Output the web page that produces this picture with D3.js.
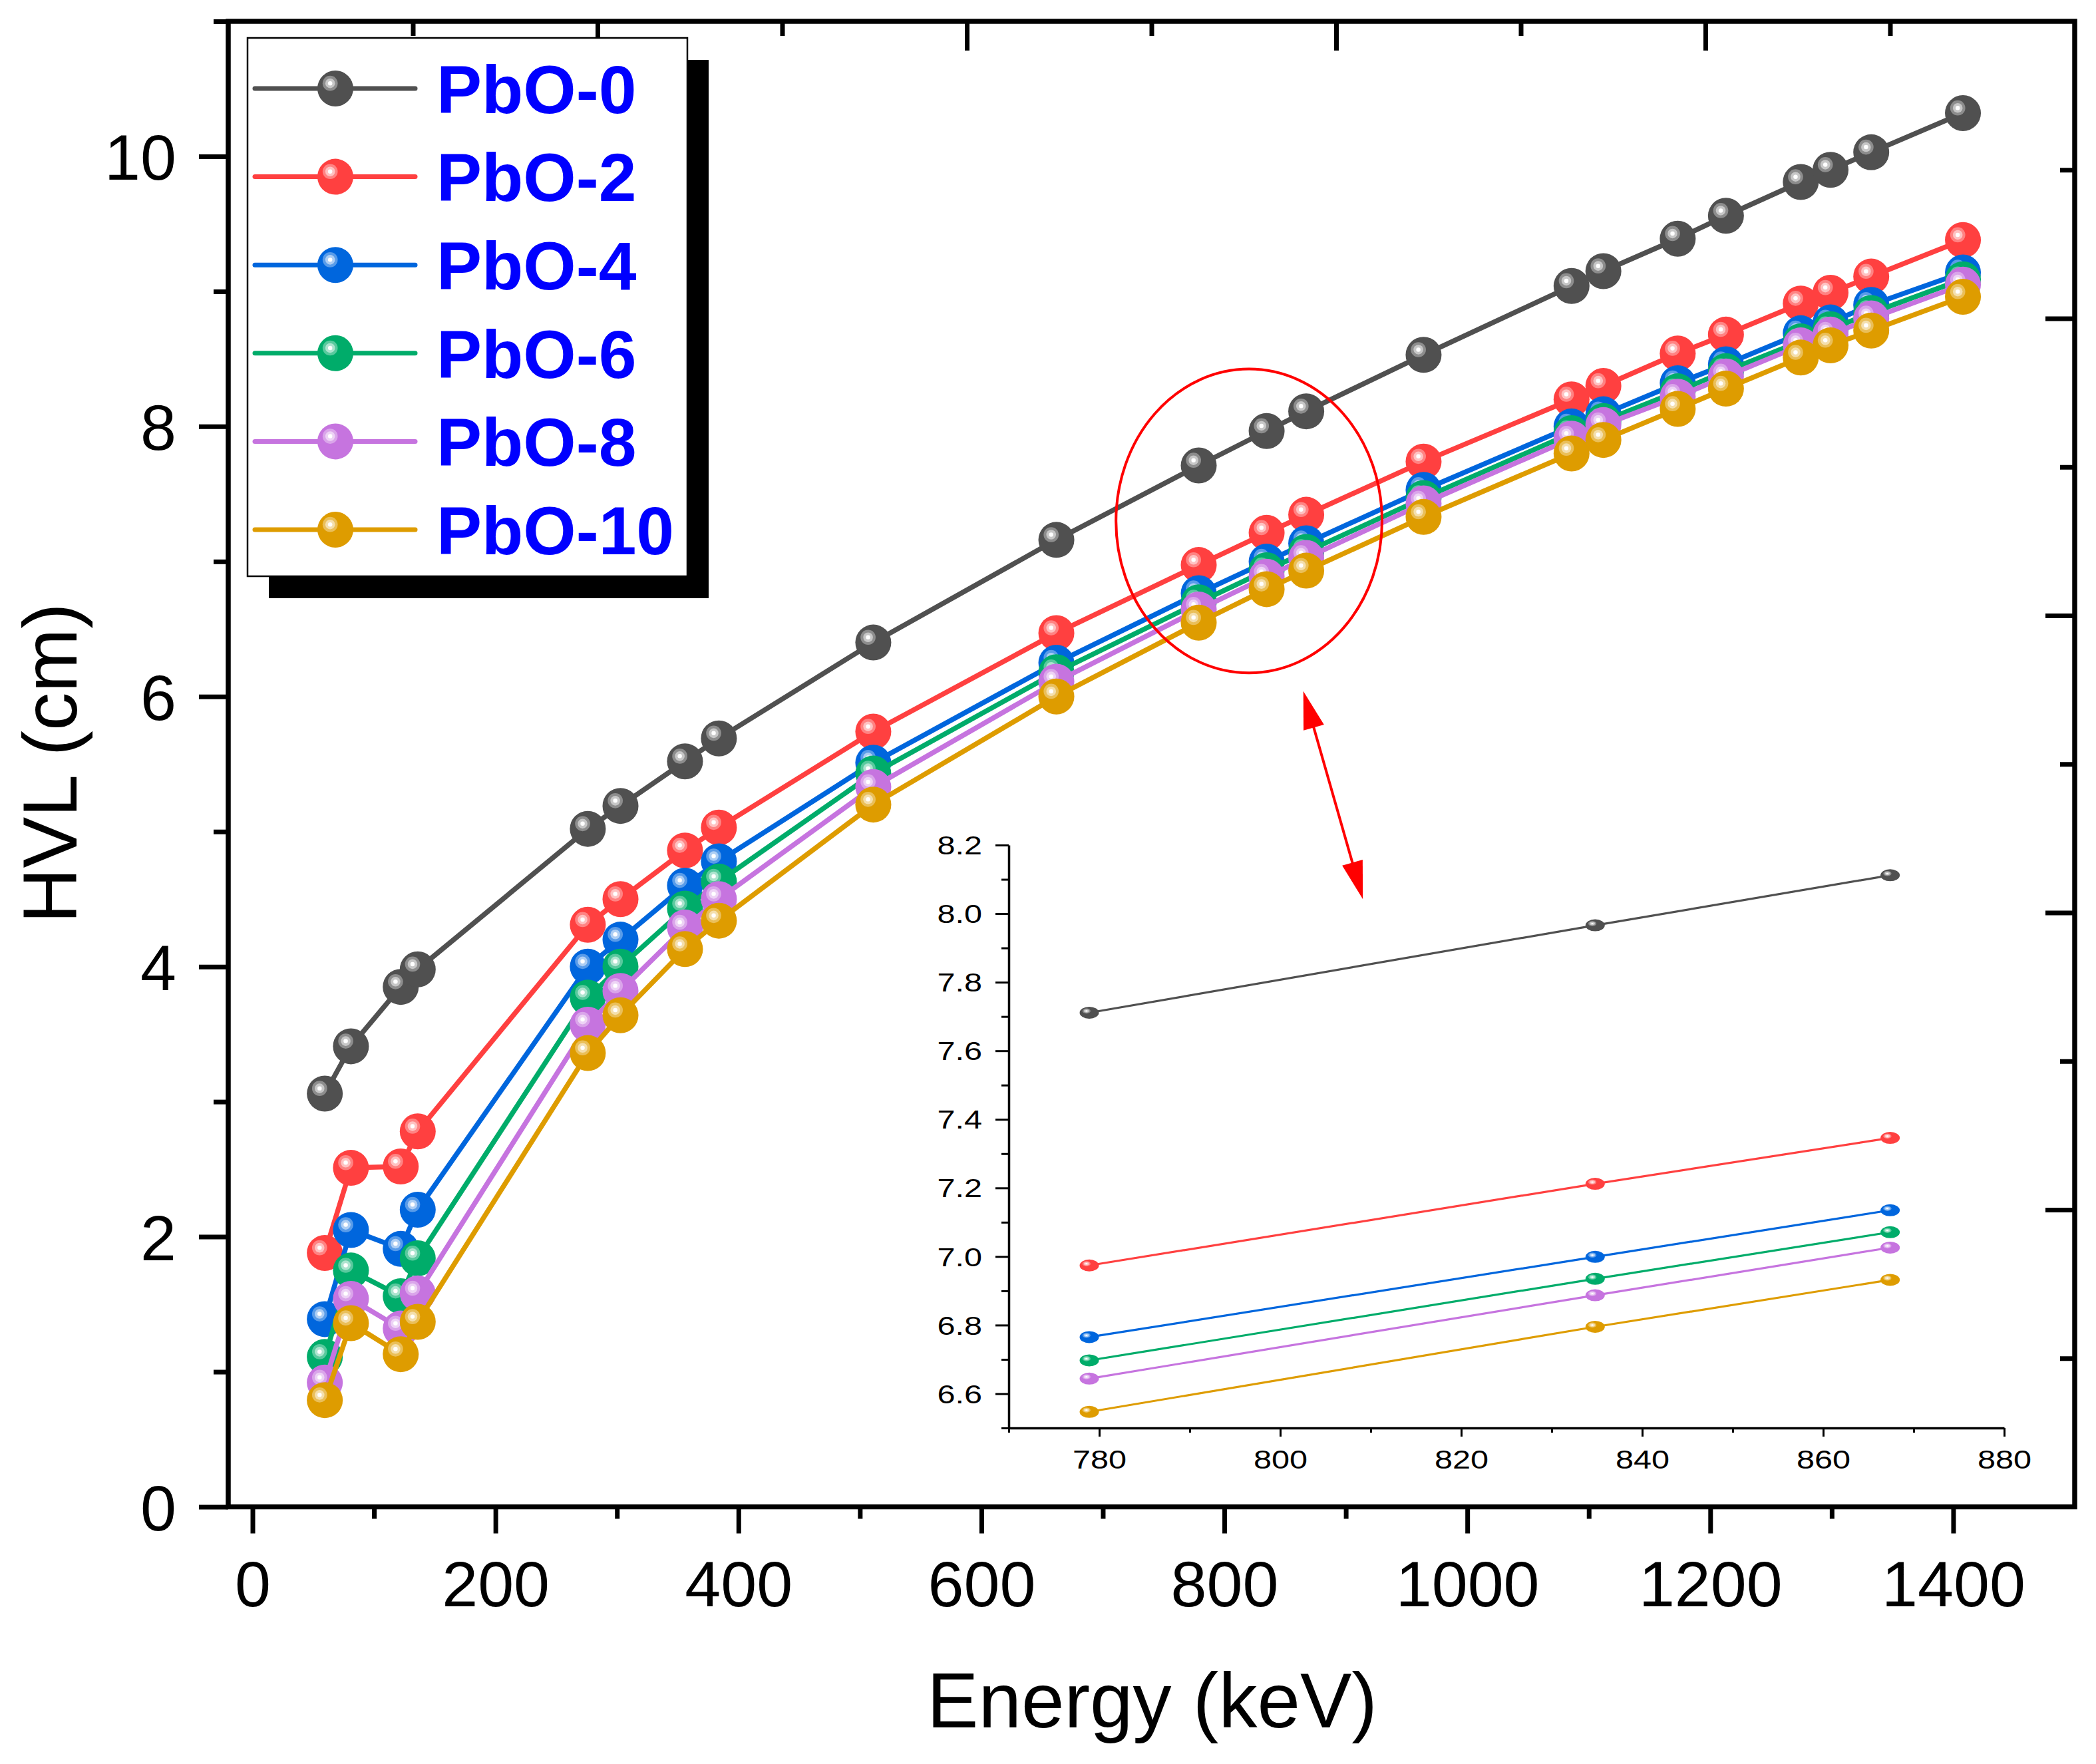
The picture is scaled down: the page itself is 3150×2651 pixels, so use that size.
<!DOCTYPE html>
<html>
<head>
<meta charset="utf-8">
<script src="https://cdn.jsdelivr.net/npm/d3@7"></script>
<style>
  body { margin: 0; background: #fff; }
  text { font-family: Arial, "Liberation Sans", sans-serif; }
</style>
</head>
<body>
<svg id="chart" width="3150" height="2651"></svg>
<script>
// data
const energy = [59.5, 81, 122, 136, 276, 302.9, 356, 383.9, 511, 661.7, 778.9, 834.8, 867.4, 964, 1085.8, 1112, 1173.2, 1212.9, 1274.5, 1299, 1332.5, 1408];

const hvlPbO0  = [3.06, 3.41, 3.85, 3.98, 5.02, 5.19, 5.52, 5.69, 6.40, 7.16, 7.711, 7.966, 8.112, 8.53, 9.04, 9.15, 9.39, 9.56, 9.81, 9.90, 10.03, 10.32];
const hvlPbO2  = [1.88, 2.51, 2.52, 2.78, 4.31, 4.50, 4.86, 5.03, 5.74, 6.47, 6.974, 7.212, 7.346, 7.74, 8.20, 8.30, 8.54, 8.68, 8.91, 8.99, 9.11, 9.38];
const hvlPbO4  = [1.39, 2.05, 1.91, 2.20, 4.00, 4.20, 4.60, 4.78, 5.51, 6.25, 6.765, 6.999, 7.135, 7.53, 8.00, 8.09, 8.32, 8.46, 8.69, 8.77, 8.90, 9.14];
const hvlPbO6  = [1.11, 1.75, 1.56, 1.84, 3.77, 4.00, 4.43, 4.63, 5.43, 6.18, 6.697, 6.935, 7.071, 7.47, 7.95, 8.04, 8.26, 8.41, 8.63, 8.72, 8.84, 9.09];
const hvlPbO8  = [0.92, 1.54, 1.32, 1.58, 3.57, 3.82, 4.29, 4.50, 5.33, 6.11, 6.644, 6.887, 7.026, 7.43, 7.91, 8.01, 8.22, 8.37, 8.60, 8.68, 8.80, 9.05];
const hvlPbO10 = [0.79, 1.36, 1.13, 1.37, 3.36, 3.64, 4.13, 4.34, 5.20, 6.00, 6.547, 6.795, 6.932, 7.33, 7.80, 7.90, 8.13, 8.28, 8.51, 8.60, 8.71, 8.96];

const seriesNames  = ['PbO-0', 'PbO-2', 'PbO-4', 'PbO-6', 'PbO-8', 'PbO-10'];
const seriesValues = [hvlPbO0, hvlPbO2, hvlPbO4, hvlPbO6, hvlPbO8, hvlPbO10];
const seriesColors = ['#505050', '#FF4040', '#0066DD', '#00AC6A', '#C674DF', '#DE9C00'];

const xTicks = [0, 200, 400, 600, 800, 1000, 1200, 1400];
const yTicks = [0, 2, 4, 6, 8, 10];
const insetXTicks = [780, 800, 820, 840, 860, 880];
const insetYTicks = [6.6, 6.8, 7.0, 7.2, 7.4, 7.6, 7.8, 8.0, 8.2];

// zoom marks (data units): ellipse centre / radii, double arrow ends
const zoomEllipse = {cx: 820.3, cy: 7.30, rx: 109.5, ry: 1.125};
const arrowEnds = [[865, 6.04], [914, 4.50]];

const svg = d3.select('#chart');
svg.append('rect').attr('width', 3150).attr('height', 2651).attr('fill', '#fff');

const L = 343, R = 3118, T = 32, B = 2264.5;
const x = d3.scaleLinear().domain([-20, 1500]).range([L, R]);
const y = d3.scaleLinear().domain([0, 11]).range([B, T]);

function cleanAxis(g, w) {
    g.select('.domain').remove();
    g.selectAll('.tick line').attr('stroke', '#000').attr('stroke-width', w);
}

// bottom axis
svg.append('g').attr('transform', `translate(0,${B})`)
    .call(d3.axisBottom(x).tickValues(d3.range(100, 1400, 200)).tickSize(18).tickFormat(''))
    .call(g => cleanAxis(g, 7));
svg.append('g').attr('transform', `translate(0,${B})`)
    .call(d3.axisBottom(x).tickValues(xTicks).tickSize(40).tickFormat(d3.format('d')))
    .call(g => cleanAxis(g, 7))
    .call(g => g.selectAll('.tick text').attr('y', 149).attr('dy', null)
        .attr('font-size', 97).attr('fill', '#000'));

// left axis
svg.append('g').attr('transform', `translate(${L},0)`)
    .call(d3.axisLeft(y).tickValues(d3.range(1, 12, 2)).tickSize(22).tickFormat(''))
    .call(g => cleanAxis(g, 7));
svg.append('g').attr('transform', `translate(${L},0)`)
    .call(d3.axisLeft(y).tickValues(yTicks).tickSize(44).tickFormat(d3.format('d')))
    .call(g => cleanAxis(g, 7))
    .call(g => g.selectAll('.tick text').attr('x', -78).attr('dy', '0.36em')
        .attr('font-size', 97).attr('fill', '#000'));

// top and right axes (unlabelled, own divisions)
const xTop = d3.scaleLinear().domain([0, 5]).range([L, R]);
const yRight = d3.scaleLinear().domain([0, 5]).range([B, T]);
svg.append('g').attr('transform', `translate(0,${T})`)
    .call(d3.axisTop(xTop).tickValues([1, 2, 3, 4]).tickSize(-44).tickFormat(''))
    .call(g => cleanAxis(g, 7));
svg.append('g').attr('transform', `translate(0,${T})`)
    .call(d3.axisTop(xTop).tickValues([0.5, 1.5, 2.5, 3.5, 4.5]).tickSize(-22).tickFormat(''))
    .call(g => cleanAxis(g, 7));
svg.append('g').attr('transform', `translate(${R},0)`)
    .call(d3.axisRight(yRight).tickValues([1, 2, 3, 4]).tickSize(-44).tickFormat(''))
    .call(g => cleanAxis(g, 7));
svg.append('g').attr('transform', `translate(${R},0)`)
    .call(d3.axisRight(yRight).tickValues([0.5, 1.5, 2.5, 3.5, 4.5]).tickSize(-22).tickFormat(''))
    .call(g => cleanAxis(g, 7));

svg.append('rect')
    .attr('x', L).attr('y', T).attr('width', R - L).attr('height', B - T)
    .attr('fill', 'none').attr('stroke', '#000').attr('stroke-width', 7.5);

// axis titles
svg.append('text').attr('x', (L + R) / 2 + 1).attr('y', 2596)
    .attr('text-anchor', 'middle').attr('font-size', 116).text('Energy (keV)');
svg.append('text').attr('transform', 'translate(115,1147) rotate(-90)')
    .attr('text-anchor', 'middle').attr('font-size', 115).text('HVL (cm)');

// shiny ball marker
function ball(g, cx, cy, rx, ry, color) {
    const lighter = d3.interpolateRgb(color, '#fff');
    g.append('ellipse').attr('cx', cx).attr('cy', cy).attr('rx', rx).attr('ry', ry).attr('fill', color);
    const hx = cx - rx * 0.29, hy = cy - ry * 0.29;
    g.append('ellipse').attr('cx', hx).attr('cy', hy).attr('rx', rx * 0.42).attr('ry', ry * 0.42).attr('fill', lighter(0.35));
    g.append('ellipse').attr('cx', hx).attr('cy', hy).attr('rx', rx * 0.27).attr('ry', ry * 0.27).attr('fill', lighter(0.68));
    g.append('ellipse').attr('cx', hx).attr('cy', hy).attr('rx', rx * 0.12).attr('ry', ry * 0.12).attr('fill', '#fff');
}

// main series
const line = d3.line().x(d => x(d.e)).y(d => y(d.v));
seriesValues.forEach((vals, s) => {
    const pts = energy.map((e, i) => ({e: e, v: vals[i]}));
    const g = svg.append('g');
    g.append('path').attr('d', line(pts)).attr('fill', 'none')
        .attr('stroke', seriesColors[s]).attr('stroke-width', 7.5).attr('stroke-linejoin', 'round');
    pts.forEach(p => ball(g, x(p.e), y(p.v), 27, 27, seriesColors[s]));
});

// legend
const lg = svg.append('g');
lg.append('rect').attr('x', 404).attr('y', 90).attr('width', 661).attr('height', 809).attr('fill', '#000');
lg.append('rect').attr('x', 372).attr('y', 57).attr('width', 661).attr('height', 809)
    .attr('fill', '#fff').attr('stroke', '#000').attr('stroke-width', 2.5);
seriesNames.forEach((name, s) => {
    const ly = 133 + s * 132.6;
    lg.append('line').attr('x1', 383).attr('x2', 624).attr('y1', ly).attr('y2', ly)
        .attr('stroke', seriesColors[s]).attr('stroke-width', 7).attr('stroke-linecap', 'round');
    ball(lg, 504, ly, 27, 27, seriesColors[s]);
    lg.append('text').attr('x', 656).attr('y', ly).attr('dy', '0.36em')
        .attr('font-size', 102).attr('font-weight', 'bold').attr('fill', '#0000FF').text(name);
});

// zoom ellipse + double arrow
svg.append('ellipse')
    .attr('cx', x(zoomEllipse.cx)).attr('cy', y(zoomEllipse.cy))
    .attr('rx', x(zoomEllipse.cx + zoomEllipse.rx) - x(zoomEllipse.cx))
    .attr('ry', y(zoomEllipse.cy) - y(zoomEllipse.cy + zoomEllipse.ry))
    .attr('fill', 'none').attr('stroke', '#FF0000').attr('stroke-width', 4);

const a0 = [x(arrowEnds[0][0]), y(arrowEnds[0][1])];
const a1 = [x(arrowEnds[1][0]), y(arrowEnds[1][1])];
const adx = a1[0] - a0[0], ady = a1[1] - a0[1], alen = Math.hypot(adx, ady);
const ux = adx / alen, uy = ady / alen;
const headL = 57, headW = 16;
svg.append('line')
    .attr('x1', a0[0] + ux * 30).attr('y1', a0[1] + uy * 30)
    .attr('x2', a1[0] - ux * 30).attr('y2', a1[1] - uy * 30)
    .attr('stroke', '#FF0000').attr('stroke-width', 4);
[[a0, 1], [a1, -1]].forEach(([tip, dir]) => {
    const bx = tip[0] + dir * ux * headL, by = tip[1] + dir * uy * headL;
    const pts = [tip, [bx - uy * headW, by + ux * headW], [bx + uy * headW, by - ux * headW]];
    svg.append('polygon').attr('points', pts.map(p => p.join(',')).join(' ')).attr('fill', '#FF0000');
});

// inset
const ix = d3.scaleLinear().domain([770, 880]).range([1516, 3012]);
const iy = d3.scaleLinear().domain([6.5, 8.2]).range([2146, 1270]);
const ig = svg.append('g');
const stretch = 1.28;

ig.append('g').attr('transform', 'translate(0,2146)')
    .call(d3.axisBottom(ix).tickValues(d3.range(770, 880, 20)).tickSize(7).tickFormat(''))
    .call(g => cleanAxis(g, 3));
ig.append('g').attr('transform', 'translate(0,2146)')
    .call(d3.axisBottom(ix).tickValues(insetXTicks).tickSize(13).tickSizeOuter(0).tickFormat(d3.format('d')))
    .call(g => g.select('.domain').attr('stroke', '#000').attr('stroke-width', 3.5))
    .call(g => g.selectAll('.tick line').attr('stroke', '#000').attr('stroke-width', 3))
    .call(g => g.selectAll('.tick text').attr('y', 61).attr('dy', null)
        .attr('font-size', 38).attr('fill', '#000').attr('transform', `scale(${stretch},1)`));

ig.append('g').attr('transform', 'translate(1516,0)')
    .call(d3.axisLeft(iy).tickValues(d3.range(6.5, 8.2, 0.2)).tickSize(11).tickFormat(''))
    .call(g => cleanAxis(g, 3));
ig.append('g').attr('transform', 'translate(1516,0)')
    .call(d3.axisLeft(iy).tickValues(insetYTicks).tickSize(20).tickSizeOuter(0).tickFormat(d3.format('.1f')))
    .call(g => g.select('.domain').attr('stroke', '#000').attr('stroke-width', 3.5))
    .call(g => g.selectAll('.tick line').attr('stroke', '#000').attr('stroke-width', 3))
    .call(g => g.selectAll('.tick text').attr('x', -40 / stretch).attr('dy', '0.36em')
        .attr('font-size', 38).attr('fill', '#000').attr('transform', `scale(${stretch},1)`));

const iline = d3.line().x(d => ix(d.e)).y(d => iy(d.v));
seriesValues.forEach((vals, s) => {
    const pts = energy.map((e, i) => ({e: e, v: vals[i]})).filter(p => p.e >= 770 && p.e <= 880);
    const g = ig.append('g');
    g.append('path').attr('d', iline(pts)).attr('fill', 'none')
        .attr('stroke', seriesColors[s]).attr('stroke-width', 3.2);
    pts.forEach(p => ball(g, ix(p.e), iy(p.v), 14.5, 9, seriesColors[s]));
});
</script>
</body>
</html>
